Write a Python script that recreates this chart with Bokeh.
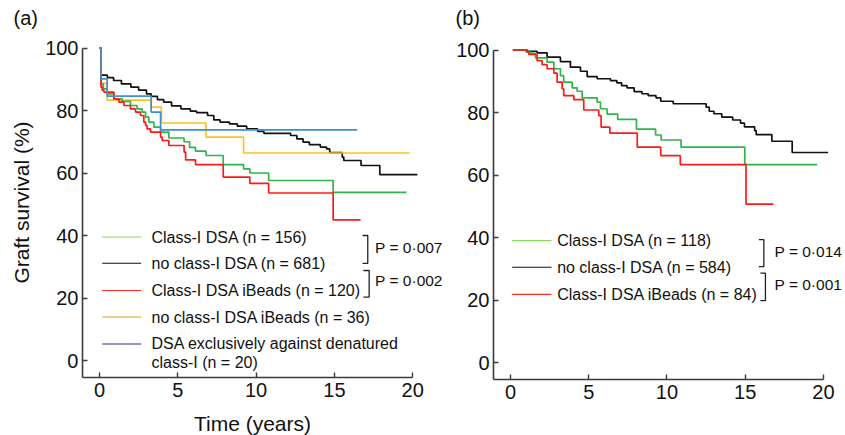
import math
from bokeh.plotting import figure
from bokeh.models import Label, Range1d, FixedTicker, ColumnDataSource
from bokeh.layouts import row
from bokeh.embed import file_html
from bokeh.resources import INLINE

FONT = "Liberation Sans"

# ---------------- data: panel (a) ----------------
a_black_t = [0.1, 0.5, 0.9, 1.4, 2.0, 2.5, 3.0, 3.3, 3.7, 4.1, 4.6, 5.2, 5.8, 6.2, 6.9, 7.3, 7.7,
             8.3, 8.8, 9.4, 10.1, 10.5, 12.2, 12.6, 13.0, 13.4, 14.1, 14.5, 14.7, 15.5, 15.6, 16.7, 17.9]
a_black_s = [91.3, 90.5, 89.6, 88.5, 87.5, 86.5, 85.3, 84.5, 83.5, 82.7, 81.5, 80.5, 79.8, 79.3, 78.4, 77.0, 76.3,
             75.7, 75.0, 74.1, 73.3, 72.7, 72.0, 70.9, 69.9, 69.1, 68.3, 67.7, 66.5, 65.1, 64.0, 62.4, 59.5]
a_black_end = 20.3

a_yellow_t = [0.1, 0.49, 3.3, 3.95, 6.8, 9.2]
a_yellow_s = [88.7, 83.3, 81.1, 76.0, 71.5, 66.4]
a_yellow_end = 19.8

a_green_t = [0.1, 0.24, 0.49, 0.92, 1.45, 1.98, 2.4, 2.72, 2.94, 3.15, 3.47, 3.9, 4.43, 5.4, 5.75, 6.13,
             6.8, 7.9, 9.2, 9.6, 10.8, 14.92]
a_green_s = [88.5, 86.9, 85.3, 83.7, 82.9, 81.6, 80.5, 79.5, 77.9, 76.3, 74.7, 73.1, 71.2, 70.0, 68.2, 67.0,
             65.6, 62.7, 61.3, 60.0, 57.6, 53.8]
a_green_end = 19.6

a_red_t = [0.1, 0.17, 0.28, 0.92, 1.24, 1.56, 1.98, 2.3, 2.62, 2.83, 2.94, 3.04, 3.26, 3.9, 4.0, 4.43,
           5.4, 5.5, 6.13, 7.9, 9.6, 10.8, 14.92]
a_red_s = [87.5, 86.5, 85.9, 83.7, 82.7, 81.6, 80.5, 79.5, 78.4, 76.3, 75.2, 74.1, 73.1, 71.5, 70.4, 68.8,
           66.7, 64.2, 62.7, 58.7, 56.7, 53.6, 45.0]
a_red_end = 16.67

a_blue_t = [0.1, 0.49, 3.3, 3.9]
a_blue_s = [90.1, 84.6, 79.5, 73.8]
a_blue_end = 16.45

a_labels = ["Class-I DSA (n = 156)", "no class-I DSA (n = 681)", "Class-I DSA iBeads (n = 120)",
            "no class-I DSA iBeads (n = 36)", "DSA exclusively against denatured\nclass-I (n = 20)"]
a_pvalues = ["P = 0\u00b7007", "P = 0\u00b7002"]

# ---------------- data: panel (b) ----------------
b_start = 0.15
b_black_t = [1.07, 1.7, 2.34, 3.19, 3.83, 4.47, 4.9, 5.54, 6.39, 6.8, 7.1, 7.45, 7.9, 8.4, 8.8, 9.3, 9.6,
             10.4, 12.5, 12.7, 13.0, 13.5, 14.2, 14.7, 14.95, 15.6, 15.7, 16.7, 18.0]
b_black_s = [99.6, 99.1, 97.7, 96.3, 94.5, 93.2, 91.5, 90.8, 90.2, 89.5, 88.6, 87.9, 86.7, 86.0, 85.4, 84.7, 83.6,
             82.8, 81.7, 80.4, 79.6, 78.5, 77.6, 76.6, 75.4, 74.2, 72.9, 70.8, 67.2]
b_black_end = 20.3

b_green_t = [1.02, 1.28, 1.6, 2.34, 2.77, 3.19, 3.4, 3.94, 4.26, 4.58, 5.54, 5.75, 6.17, 6.85, 8.05, 9.27,
             9.63, 10.9, 14.97]
b_green_s = [99.3, 98.9, 97.5, 96.1, 94.0, 91.8, 89.7, 87.9, 86.8, 84.7, 83.3, 81.2, 79.5, 77.8, 74.7, 72.8,
             71.2, 68.9, 63.3]
b_green_end = 19.6

b_red_t = [1.02, 1.17, 1.7, 2.02, 2.34, 2.77, 2.98, 3.3, 3.4, 4.05, 4.68, 5.64, 5.79, 6.35, 8.1, 9.6, 10.85,
           15.05]
b_red_s = [99.5, 98.6, 96.6, 95.3, 94.0, 92.6, 89.7, 87.6, 85.4, 84.1, 80.8, 79.0, 75.3, 73.4, 68.9, 66.2, 63.3,
           50.7]
b_red_end = 16.8

b_labels = ["Class-I DSA (n = 118)", "no class-I DSA (n = 584)", "Class-I DSA iBeads (n = 84)"]
b_pvalues = ["P = 0\u00b7014", "P = 0\u00b7001"]

x_ticks = [0, 5, 10, 15, 20]
y_ticks = [0, 20, 40, 60, 80, 100]

# ---------------- styles ----------------
C_BLACK = "#111111"
C_GREEN = "#2fb54a"
C_RED = "#ff1a1a"
C_YELLOW = "#ffc21a"
C_BLUE = "#3d8fd1"
L_GREEN = "#8fd75c"
L_BLACK = "#111111"
L_RED = "#ff2a2a"
L_YELLOW = "#d8a51a"
L_NAVY = "#30308f"
AX = "#3a3a3a"

AXIS_X = -1.086   # where the y axis sits (years)
AXIS_Y = -5.44    # where the x axis sits (%)


def km(times, surv, end, start=0.0):
    xs = [start] + list(times) + [end]
    ys = [100.0] + list(surv) + [surv[-1]]
    return ColumnDataSource(dict(t=xs, s=ys))


def make_fig(width, height, xr, yr):
    p = figure(width=width, height=height, x_range=Range1d(*xr), y_range=Range1d(*yr),
               output_backend="svg", toolbar_location=None,
               min_border_left=0, min_border_right=0, min_border_top=0, min_border_bottom=0)
    p.outline_line_color = None
    p.grid.visible = False
    p.background_fill_color = "white"
    p.border_fill_color = "white"
    for ax in (p.xaxis[0], p.yaxis[0]):
        ax.axis_line_color = AX
        ax.axis_line_width = 1.6
        ax.major_tick_line_color = AX
        ax.major_tick_line_width = 1.4
        ax.major_tick_in = 5
        ax.major_tick_out = 0
        ax.minor_tick_line_color = None
        ax.major_label_text_font = FONT
        ax.major_label_text_font_size = "20px"
        ax.major_label_text_color = "#111111"
    p.xaxis[0].ticker = FixedTicker(ticks=x_ticks)
    p.yaxis[0].ticker = FixedTicker(ticks=y_ticks)
    p.xaxis[0].bounds = (AXIS_X, 20)
    p.yaxis[0].bounds = (AXIS_Y, 100)
    p.xaxis[0].fixed_location = AXIS_Y
    p.yaxis[0].fixed_location = AXIS_X
    p.xaxis[0].major_label_standoff = 5
    p.yaxis[0].major_label_standoff = 4
    return p


def add_text(p, x, y, text, size="16px", align="left", baseline="middle", angle=0.0):
    p.add_layout(Label(x=x, y=y, text=text, text_font=FONT, text_font_size=size,
                       text_align=align, text_baseline=baseline, angle=angle,
                       text_color="#111111"))


def bracket(p, x_arm, x_v, y_top, y_bot):
    p.line([x_arm, x_v, x_v, x_arm], [y_top, y_top, y_bot, y_bot], line_color="#222222", line_width=1.3)


# ---------------- panel (a) ----------------
pa = make_fig(445, 435, (-6.322, 22.094), (-24.0, 115.2))
for src, col in [(km(a_black_t, a_black_s, a_black_end), C_BLACK),
                 (km(a_yellow_t, a_yellow_s, a_yellow_end), C_YELLOW),
                 (km(a_green_t, a_green_s, a_green_end), C_GREEN),
                 (km(a_red_t, a_red_s, a_red_end), C_RED),
                 (km(a_blue_t, a_blue_s, a_blue_end), C_BLUE)]:
    pa.step(x="t", y="s", source=src, mode="after", line_color=col, line_width=1.7)

a_rows = [39.5, 31.1, 22.4, 13.9, 5.3]
a_cols = [L_GREEN, L_BLACK, L_RED, L_YELLOW, L_NAVY]
pa.segment(x0=[0.17] * 5, x1=[2.66] * 5, y0=a_rows, y1=a_rows, line_color=a_cols, line_width=1.1)
for i, lab in enumerate(a_labels):
    if "\n" in lab:
        l1, l2 = lab.split("\n")
        add_text(pa, 3.32, a_rows[i], l1)
        add_text(pa, 3.32, a_rows[i] - 5.9, l2)
    else:
        add_text(pa, 3.32, a_rows[i], lab)
bracket(pa, 16.8, 17.13, 40.0, 31.1)
bracket(pa, 16.85, 17.22, 28.8, 20.3)
add_text(pa, 17.6, 36.3, a_pvalues[0], size="15.5px")
add_text(pa, 17.6, 25.6, a_pvalues[1], size="15.5px")

add_text(pa, -5.49, 109.76, "(a)", size="20px")
add_text(pa, 9.77, -20.16, "Time (years)", size="21px", align="center")
add_text(pa, -4.95, 50.56, "Graft survival (%)", size="21px", align="center", angle=math.pi / 2)

# ---------------- panel (b) ----------------
pb = make_fig(400, 435, (-4.153, 21.406), (-23.36, 115.84))
for src, col in [(km(b_black_t, b_black_s, b_black_end, b_start), C_BLACK),
                 (km(b_green_t, b_green_s, b_green_end, b_start), C_GREEN),
                 (km(b_red_t, b_red_s, b_red_end, b_start), C_RED)]:
    pb.step(x="t", y="s", source=src, mode="after", line_color=col, line_width=1.7)

b_rows = [39.0, 30.5, 21.8]
b_cols = [L_GREEN, L_BLACK, L_RED]
pb.segment(x0=[0.11] * 3, x1=[2.62] * 3, y0=b_rows, y1=b_rows, line_color=b_cols, line_width=1.1)
for i, lab in enumerate(b_labels):
    add_text(pb, 2.98, b_rows[i], lab)
bracket(pb, 15.87, 16.19, 39.3, 30.7)
bracket(pb, 15.97, 16.29, 28.6, 19.8)
add_text(pb, 16.87, 35.6, b_pvalues[0], size="15.5px")
add_text(pb, 16.87, 24.9, b_pvalues[1], size="15.5px")
add_text(pb, -3.51, 110.4, "(b)", size="20px")

layout = row(pa, pb)
open("out.html", "w").write(file_html(layout, INLINE))
